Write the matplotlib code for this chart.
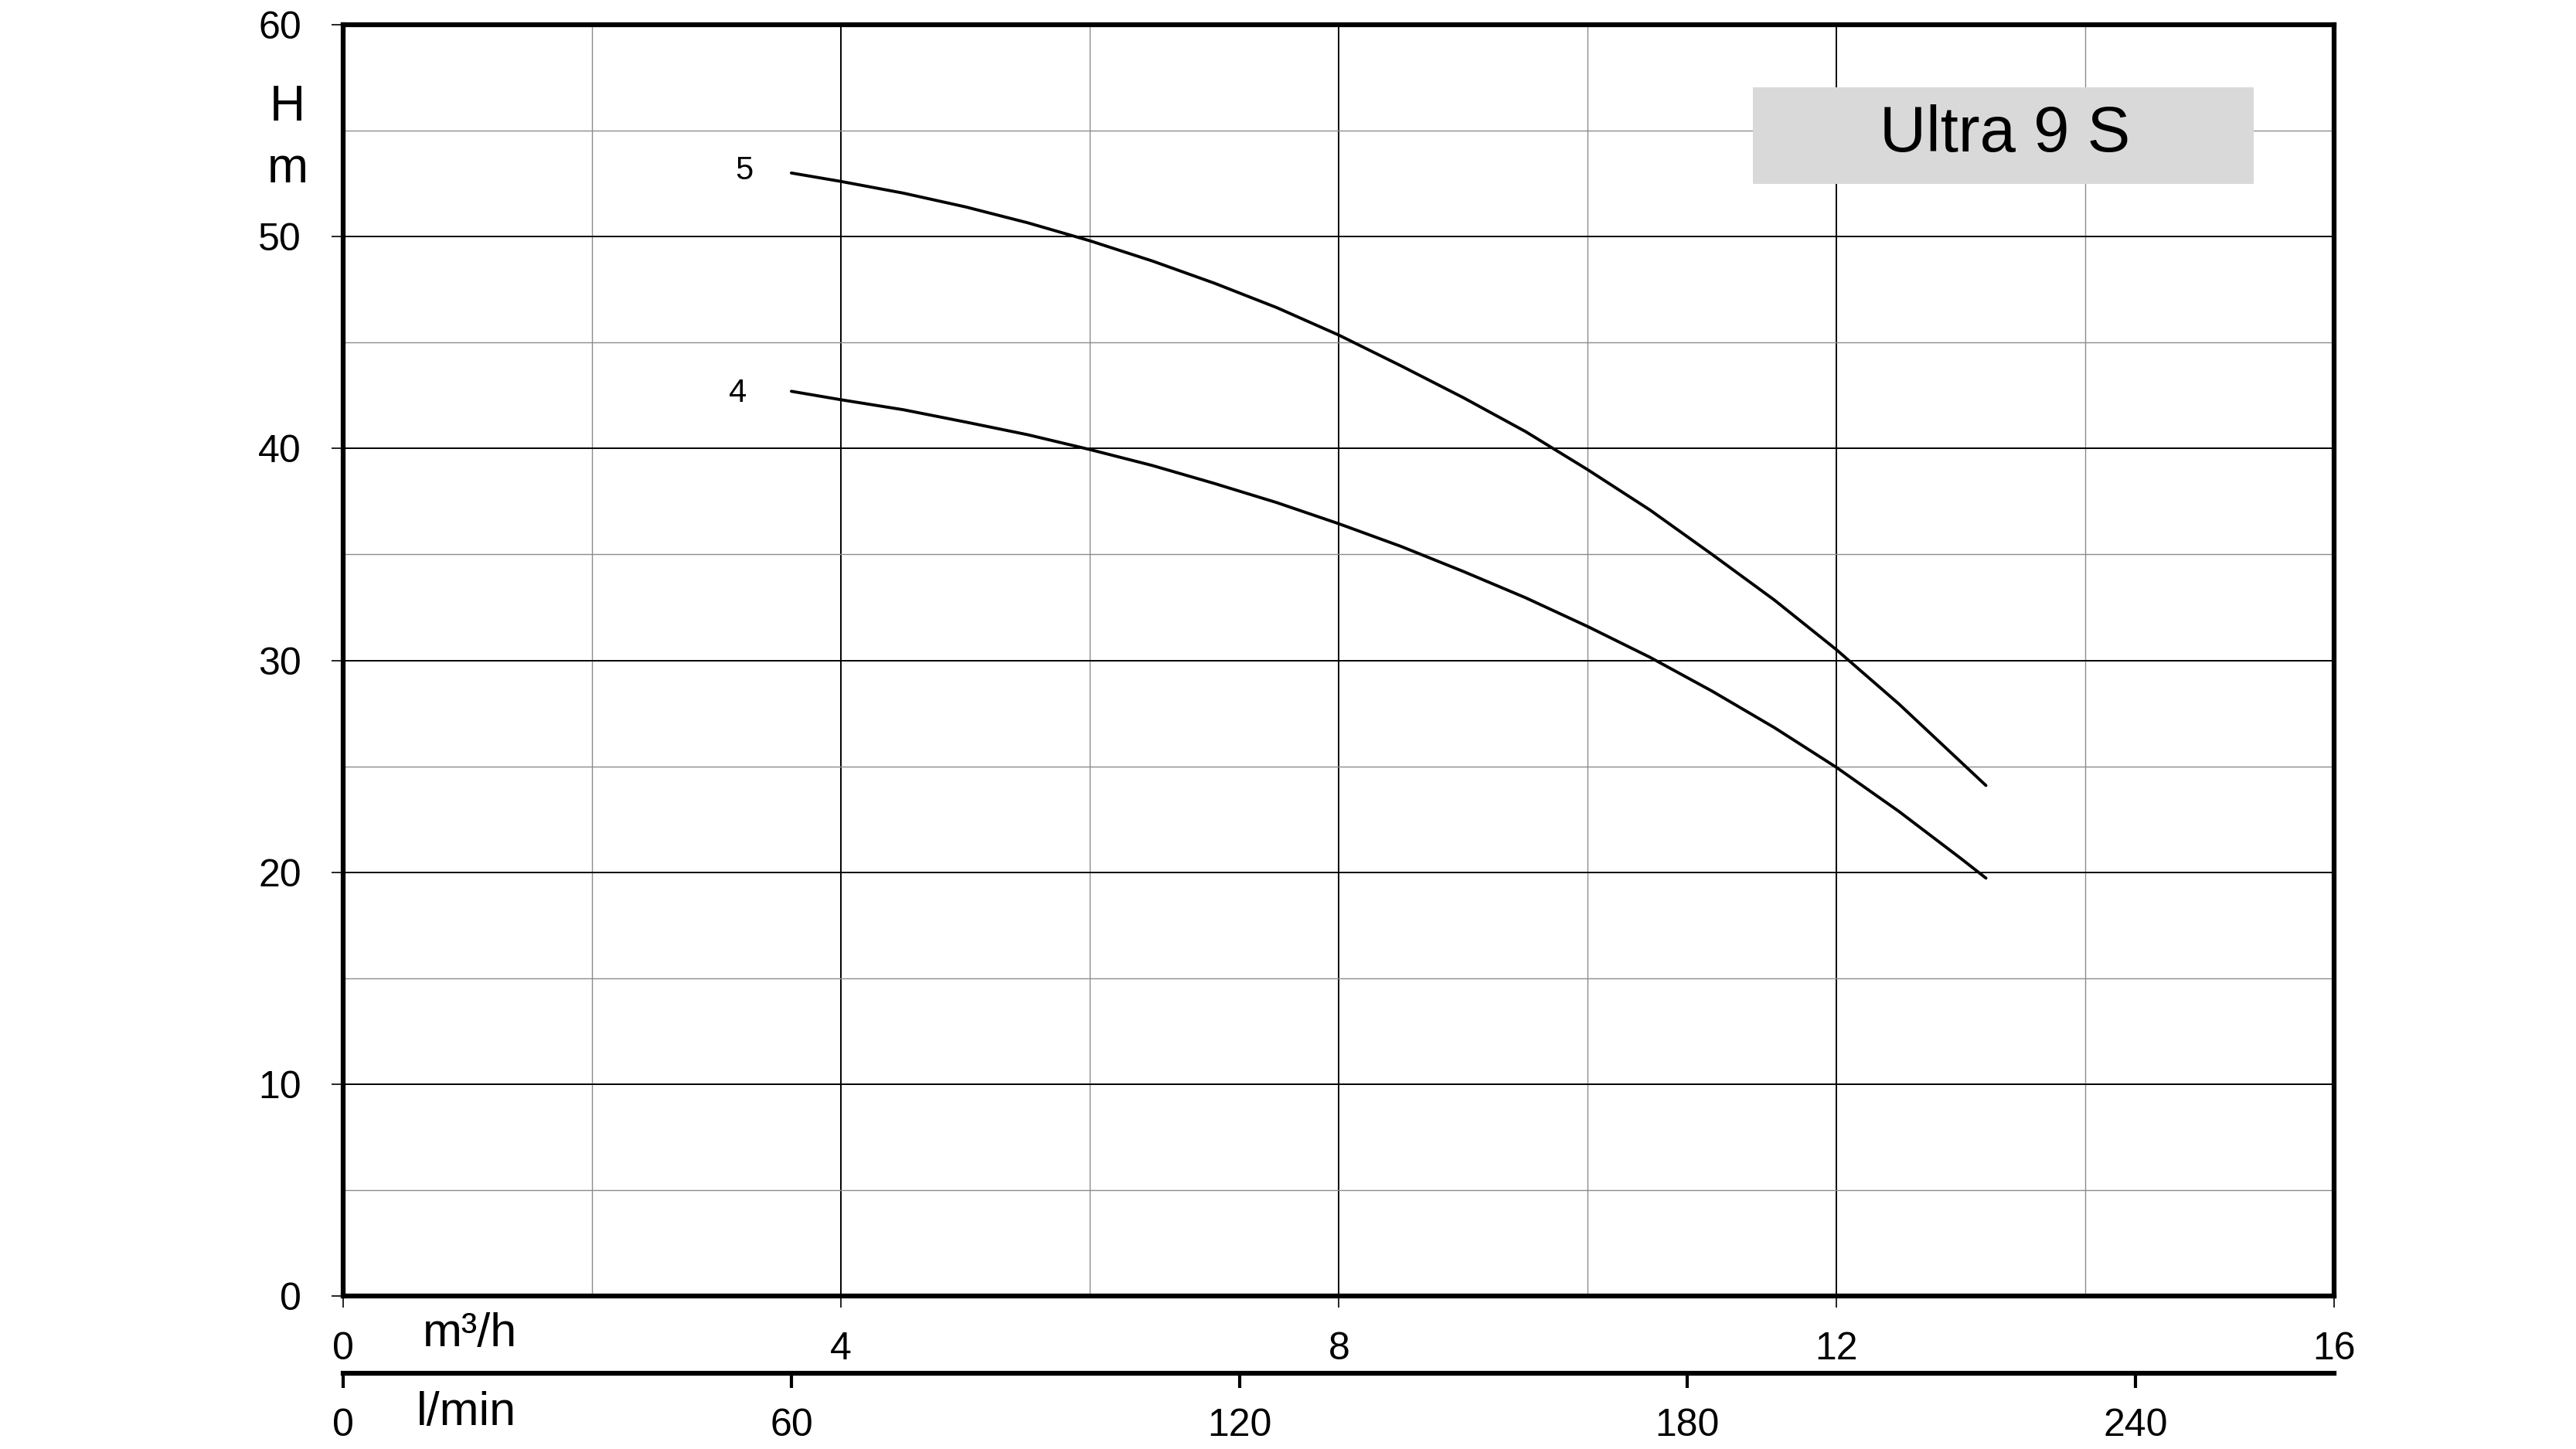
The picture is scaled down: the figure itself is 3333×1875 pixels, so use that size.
import matplotlib
matplotlib.use("Agg")
from matplotlib import pyplot as plt
from matplotlib.patches import Rectangle

plt.rcParams['font.family'] = ['Liberation Sans Narrow', 'Liberation Sans', 'DejaVu Sans']

# flow (m3/h) and head (m)
q = [3.6, 4, 4.5, 5, 5.5, 6, 6.5, 7, 7.5, 8, 8.5, 9, 9.5, 10, 10.5, 11,
     11.5, 12, 12.5, 13, 13.2]
h_stage5 = [53.0, 52.6, 52.05, 51.4, 50.65, 49.8, 48.85, 47.8, 46.65, 45.35,
            43.9, 42.4, 40.8, 39.0, 37.1, 35.0, 32.85, 30.5, 27.95, 25.2, 24.1]
h_stage4 = [42.7, 42.3, 41.83, 41.25, 40.65, 39.95, 39.2, 38.35, 37.45, 36.45,
            35.38, 34.2, 32.96, 31.6, 30.15, 28.55, 26.83, 24.95, 22.88, 20.65,
            19.73]

x_ticks = [0, 4, 8, 12, 16]
y_ticks = [0, 10, 20, 30, 40, 50, 60]
lmin_ticks = [0, 60, 120, 180, 240]
model = "Ultra 9 S"

fig = plt.figure(figsize=(33.33, 18.75), dpi=100)
ax = fig.add_axes([0.1333, 0.1054, 0.7729, 0.8776])

ax.set_xlim(0, 16)
ax.set_ylim(0, 60)

# grid
ax.set_xticks(x_ticks)
ax.set_yticks(y_ticks)
ax.set_xticks([2, 6, 10, 14], minor=True)
ax.set_yticks([5, 15, 25, 35, 45, 55], minor=True)
ax.grid(which='major', color='black', linewidth=1.4)
ax.grid(which='minor', color='#8c8c8c', linewidth=1.0)
ax.set_axisbelow(True)

for s in ax.spines.values():
    s.set_linewidth(4.5)

ax.tick_params(axis='x', which='major', direction='out', length=11, width=1.2,
               labelsize=36, pad=22)
ax.tick_params(axis='y', which='major', direction='out', length=11, width=1.2,
               labelsize=36, pad=28)
ax.tick_params(which='minor', length=0)

# curves
ax.plot(q, h_stage5, color='black', linewidth=2.8, zorder=3,
        solid_joinstyle='round', solid_capstyle='round')
ax.plot(q, h_stage4, color='black', linewidth=2.8, zorder=3,
        solid_joinstyle='round', solid_capstyle='round')
ax.text(3.22, 53.1, "5", fontsize=30, ha='center', va='center')
ax.text(3.17, 42.6, "4", fontsize=30, ha='center', va='center')

# model label box
ax.add_patch(Rectangle((11.33, 52.5), 4.02, 4.55, facecolor='#d9d9d9',
                       edgecolor='none', zorder=2))
ax.text(13.35, 54.8, model, fontsize=60, ha='center', va='center', zorder=4)

# second flow scale in l/min
sec = ax.secondary_xaxis(-0.0607, functions=(lambda v: v * 1000 / 60,
                                             lambda v: v * 60 / 1000))
sec.set_xticks(lmin_ticks)
sec.spines['bottom'].set_linewidth(4.5)
sec.tick_params(direction='out', length=14, width=3, labelsize=36, pad=18)

# axis labels
fig.text(0.1116, 0.926, "H", fontsize=46, ha='center', va='center')
fig.text(0.1116, 0.883, "m", fontsize=46, ha='center', va='center')
fig.text(0.1824, 0.0794, "m³/h", fontsize=44, ha='center', va='center')
fig.text(0.181, 0.025, "l/min", fontsize=44, ha='center', va='center')

fig.savefig("out.png", dpi=100)
